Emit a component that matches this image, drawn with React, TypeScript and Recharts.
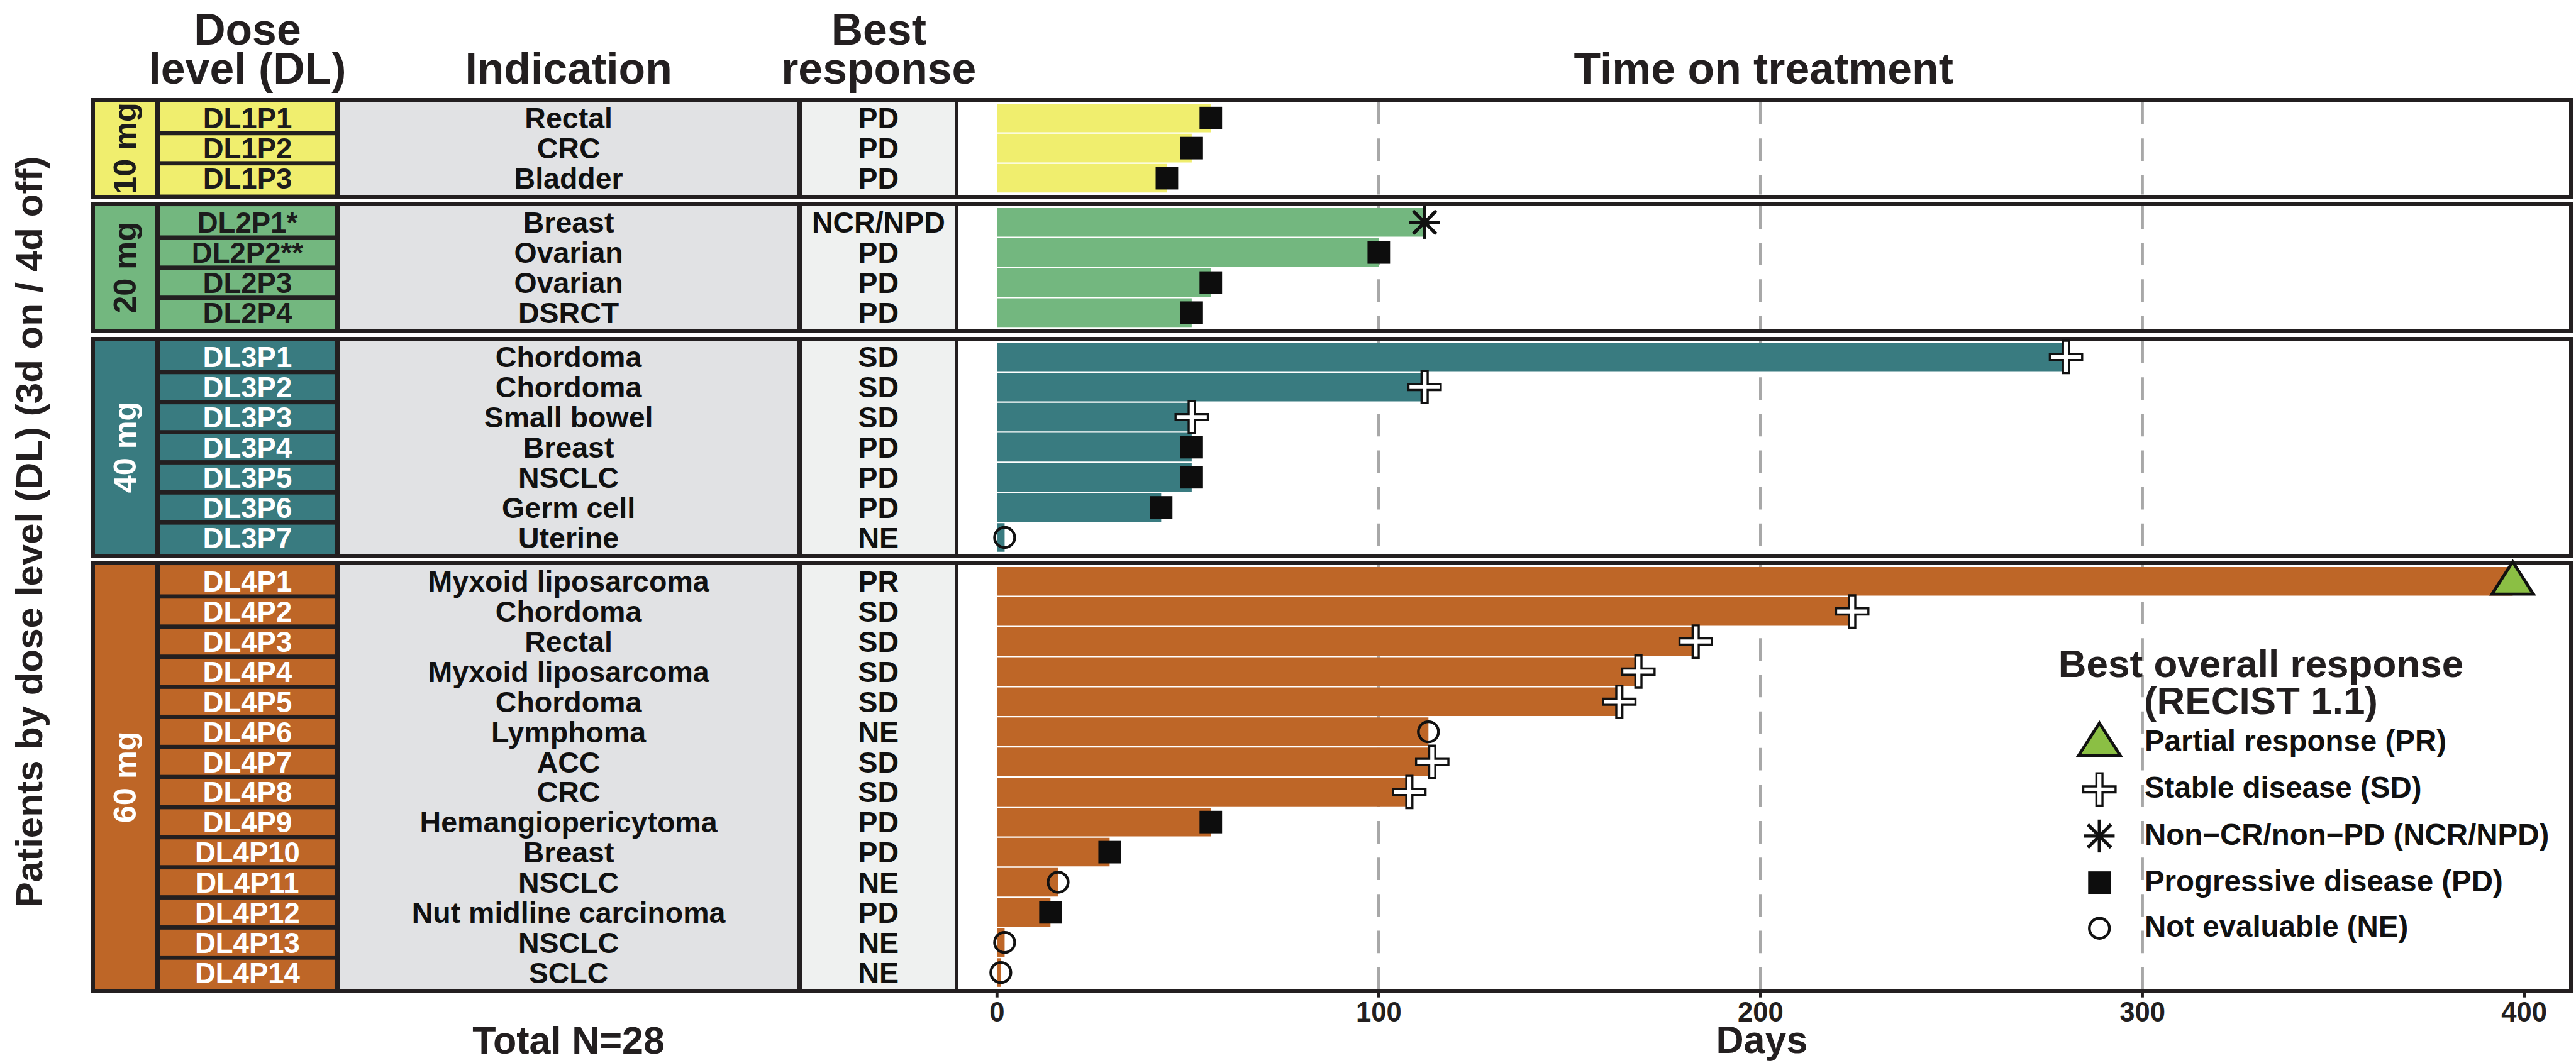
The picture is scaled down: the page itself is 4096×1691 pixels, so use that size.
import React from "react"
import { Bar, CartesianGrid, ComposedChart, LabelList, XAxis, YAxis } from "recharts"

// everything is laid out in reference pixels, then scaled
const S = 0.969
const s = (v: number) => v * S

const doseLevels = ["10 mg", "20 mg", "40 mg", "60 mg"]
const patientsPerDose = [3, 4, 7, 14]

const patientIds = [
  "DL1P1", "DL1P2", "DL1P3",
  "DL2P1*", "DL2P2**", "DL2P3", "DL2P4",
  "DL3P1", "DL3P2", "DL3P3", "DL3P4", "DL3P5", "DL3P6", "DL3P7",
  "DL4P1", "DL4P2", "DL4P3", "DL4P4", "DL4P5", "DL4P6", "DL4P7",
  "DL4P8", "DL4P9", "DL4P10", "DL4P11", "DL4P12", "DL4P13", "DL4P14",
]

const indications = [
  "Rectal", "CRC", "Bladder",
  "Breast", "Ovarian", "Ovarian", "DSRCT",
  "Chordoma", "Chordoma", "Small bowel", "Breast", "NSCLC", "Germ cell", "Uterine",
  "Myxoid liposarcoma", "Chordoma", "Rectal", "Myxoid liposarcoma", "Chordoma", "Lymphoma", "ACC",
  "CRC", "Hemangiopericytoma", "Breast", "NSCLC", "Nut midline carcinoma", "NSCLC", "SCLC",
]

const bestResponses = [
  "PD", "PD", "PD",
  "NCR/NPD", "PD", "PD", "PD",
  "SD", "SD", "SD", "PD", "PD", "PD", "NE",
  "PR", "SD", "SD", "SD", "SD", "NE", "SD",
  "SD", "PD", "PD", "NE", "PD", "NE", "NE",
]

const daysOnTreatment = [
  56, 51, 44.5,
  112, 100, 56, 51,
  280, 112, 51, 51, 51, 43, 2,
  397, 224, 183, 168, 163, 113, 114,
  108, 56, 29.5, 16, 14, 2, 1,
]

const xTicks = [0, 100, 200, 300, 400]
const gridDays = [100, 200, 300]

const legendCodes = ["PR", "SD", "NCR/NPD", "PD", "NE"]
const legendLabels = [
  "Partial response (PR)",
  "Stable disease (SD)",
  "Non\u2212CR/non\u2212PD (NCR/NPD)",
  "Progressive disease (PD)",
  "Not evaluable (NE)",
]

const doseColors = ["#F0EE6E", "#73B77F", "#397B80", "#BE6627"]
const doseInk = ["#1C1C1C", "#1C1C1C", "#FFFFFF", "#FFFFFF"]
const INK = "#231F20"
const FONT = "'Liberation Sans', Arial, Helvetica, sans-serif"

// layout (reference px)
const FRAME_L = 149
const FRAME_R = 4222.5
const BORDER = 6.5
const PANEL_GAP = 6
const ROW_H = 49.4
const PAD = 2
const FIRST_TOP = 161
const COL = {
  strip: [155.5, 255],
  id: [263, 549],
  ind: [557, 1309],
  best: [1316, 1567],
  plot: [1573, 4216],
}
const X0 = 1636
const PX_PER_DAY = 6.265
const xDomain = [(COL.plot[0] - X0) / PX_PER_DAY, (COL.plot[1] - X0) / PX_PER_DAY]
const M = 30
const AXIS_H = 70

type Row = { id: string; indication: string; resp: string; days: number }
type Panel = {
  dose: string
  color: string
  ink: string
  rows: Row[]
  n: number
  outerTop: number
  innerTop: number
  innerH: number
  last: boolean
}

let cursor = 0
let nextTop = FIRST_TOP
const panels: Panel[] = doseLevels.map((dose, p) => {
  const n = patientsPerDose[p]
  const rows = patientIds.slice(cursor, cursor + n).map((id, i) => ({
    id,
    indication: indications[cursor + i],
    resp: bestResponses[cursor + i],
    days: daysOnTreatment[cursor + i],
  }))
  const innerH = n * ROW_H + 2 * PAD
  const panel = {
    dose,
    color: doseColors[p],
    ink: doseInk[p],
    rows,
    n,
    outerTop: nextTop,
    innerTop: nextTop + BORDER,
    innerH,
    last: p === doseLevels.length - 1,
  }
  cursor += n
  nextTop += innerH + 2 * BORDER + PANEL_GAP
  return panel
})

function Marker({ code, cx, cy }: { code: string; cx: number; cy: number }) {
  const k = S
  if (code === "PR") {
    return (
      <polygon
        points={`${cx},${cy - 32 * k} ${cx + 34 * k},${cy + 21 * k} ${cx - 34 * k},${cy + 21 * k}`}
        fill="#8BBF44"
        stroke="#111"
        strokeWidth={5 * k}
      />
    )
  }
  if (code === "SD") {
    const a = 5 * k
    const L = 26.5 * k
    const d = `M${cx - a},${cy - L}H${cx + a}V${cy - a}H${cx + L}V${cy + a}H${cx + a}V${cy + L}H${cx - a}V${cy + a}H${cx - L}V${cy - a}H${cx - a}Z`
    return <path d={d} fill="#fff" stroke="#111" strokeWidth={3.5 * k} />
  }
  if (code === "NCR/NPD") {
    const v = 27 * k
    const h = 25 * k
    const dg = 19 * k
    return (
      <g stroke="#111" strokeWidth={5.5 * k}>
        <line x1={cx} y1={cy - v} x2={cx} y2={cy + v} />
        <line x1={cx - h} y1={cy} x2={cx + h} y2={cy} />
        <line x1={cx - dg} y1={cy - dg} x2={cx + dg} y2={cy + dg} />
        <line x1={cx - dg} y1={cy + dg} x2={cx + dg} y2={cy - dg} />
      </g>
    )
  }
  if (code === "PD") {
    return <rect x={cx - 18.5 * k} y={cy - 18.5 * k} width={37 * k} height={37 * k} fill="#0D0D0D" />
  }
  return <circle cx={cx} cy={cy} r={16.5 * k} fill="none" stroke="#111" strokeWidth={4.5 * k} />
}

function PanelChart({ panel }: { panel: Panel }) {
  const innerPx = s(panel.innerH)
  const mTop = s(M)
  const axisPx = panel.last ? s(AXIS_H) : 0
  const height = mTop + innerPx + axisPx + s(M)
  const band = s(ROW_H)

  const renderRow = (props: any) => {
    const { y, payload } = props
    const i = panel.rows.findIndex((r) => r.id === payload.value)
    if (i < 0) return <g />
    const row = panel.rows[i]
    const half = s(3.5)
    const top = i === 0 ? mTop : y - band / 2 + half
    const bot = i === panel.n - 1 ? mTop + innerPx : y + band / 2 - half
    const base = y + s(17)
    return (
      <g>
        <rect x={s(COL.id[0])} y={top} width={s(COL.id[1] - COL.id[0])} height={bot - top} fill={panel.color} />
        <text x={s((COL.id[0] + COL.id[1]) / 2)} y={base} textAnchor="middle" fill={panel.ink} fontSize={s(47)} fontWeight="bold">
          {row.id}
        </text>
        <text x={s((COL.ind[0] + COL.ind[1]) / 2)} y={base} textAnchor="middle" fill="#111" fontSize={s(48)} fontWeight="bold">
          {row.indication}
        </text>
        <text x={s((COL.best[0] + COL.best[1]) / 2)} y={base} textAnchor="middle" fill="#111" fontSize={s(48)} fontWeight="bold">
          {row.resp}
        </text>
      </g>
    )
  }

  const renderMarker = (props: any) => {
    const vb = props.viewBox && props.viewBox.width !== undefined ? props.viewBox : props
    return <Marker code={props.value} cx={vb.x + vb.width} cy={vb.y + vb.height / 2} />
  }

  const renderTick = (props: any) => (
    <text x={props.x} y={mTop + innerPx + s(53.5)} textAnchor="middle" fontSize={s(45)} fontWeight="bold" fill={INK}>
      {props.payload.value}
    </text>
  )

  return (
    <div style={{ position: "absolute", left: 0, top: s(panel.innerTop) - mTop }}>
      <ComposedChart
        layout="vertical"
        width={s(COL.plot[1])}
        height={height}
        data={panel.rows}
        margin={{ top: mTop, right: 0, bottom: s(M), left: 0 }}
      >
        <CartesianGrid
          horizontal={false}
          verticalValues={gridDays}
          stroke="#A8A8A8"
          strokeWidth={s(5)}
          strokeDasharray={`${s(37)} ${s(23)}`}
        />
        <XAxis
          type="number"
          dataKey="days"
          domain={xDomain}
          ticks={xTicks}
          interval={0}
          hide={!panel.last}
          height={axisPx}
          axisLine={false}
          tickSize={s(14)}
          tickLine={{ stroke: INK, strokeWidth: s(5) }}
          tick={renderTick}
        />
        <YAxis
          type="category"
          dataKey="id"
          width={s(COL.plot[0])}
          interval={0}
          axisLine={false}
          tickLine={false}
          padding={{ top: s(PAD), bottom: s(PAD) }}
          tick={renderRow}
        />
        <Bar dataKey="days" fill={panel.color} barSize={s(ROW_H - 2.4)} isAnimationActive={false}>
          <LabelList dataKey="resp" content={renderMarker} />
        </Bar>
      </ComposedChart>
    </div>
  )
}

function Frames() {
  const box = (key: string, x0: number, x1: number, y: number, h: number, bg: string) => (
    <div key={key} style={{ position: "absolute", left: s(x0), top: s(y), width: s(x1 - x0), height: s(h), background: bg }} />
  )
  return (
    <>
      {panels.map((p, i) => (
        <React.Fragment key={i}>
          {box(`o${i}`, FRAME_L, FRAME_R, p.outerTop, p.innerH + 2 * BORDER, INK)}
          {box(`s${i}`, COL.strip[0], COL.strip[1], p.innerTop, p.innerH, p.color)}
          {box(`n${i}`, COL.ind[0], COL.ind[1], p.innerTop, p.innerH, "#E1E2E4")}
          {box(`b${i}`, COL.best[0], COL.best[1], p.innerTop, p.innerH, "#EFF1F0")}
          {box(`p${i}`, COL.plot[0], COL.plot[1], p.innerTop, p.innerH, "#FFFFFF")}
        </React.Fragment>
      ))}
    </>
  )
}

function Overlay() {
  const head = s(72)
  const legX = 3445
  const legTextX = 3519
  const legBase = [1233, 1310, 1386.5, 1463, 1538]
  return (
    <svg width={4096} height={1691} style={{ position: "absolute", left: 0, top: 0, pointerEvents: "none" }}>
      <g fontWeight="bold" fill={INK} textAnchor="middle" fontSize={head}>
        <text x={s(406)} y={s(73)}>Dose</text>
        <text x={s(406)} y={s(137.5)}>level (DL)</text>
        <text x={s(933)} y={s(137.5)}>Indication</text>
        <text x={s(1442)} y={s(73)}>Best</text>
        <text x={s(1442)} y={s(137.5)}>response</text>
        <text x={s(2894)} y={s(137.5)}>Time on treatment</text>
      </g>
      <text
        transform={`translate(${s(48)},${s(873)}) rotate(-90)`}
        textAnchor="middle"
        dominantBaseline="central"
        fontWeight="bold"
        fontSize={s(62)}
        fill={INK}
      >
        Patients by dose level (DL) (3d on / 4d off)
      </text>
      {panels.map((p, i) => (
        <text
          key={i}
          transform={`translate(${s(205)},${s(p.innerTop + p.innerH / 2)}) rotate(-90)`}
          textAnchor="middle"
          dominantBaseline="central"
          fontWeight="bold"
          fontSize={s(52)}
          fill={p.ink}
        >
          {p.dose}
        </text>
      ))}
      <g fontWeight="bold" fill={INK} textAnchor="middle" fontSize={s(63)}>
        <text x={s(933)} y={s(1730)}>Total N=28</text>
        <text x={s(2891)} y={s(1729)}>Days</text>
      </g>
      <g fontWeight="bold" fill={INK} textAnchor="middle" fontSize={s(64)}>
        <text x={s(3710)} y={s(1111)}>Best overall response</text>
        <text x={s(3710)} y={s(1172)}>(RECIST 1.1)</text>
      </g>
      {legendCodes.map((code, i) => (
        <g key={code}>
          <Marker code={code} cx={s(legX)} cy={s(legBase[i] - 14)} />
          <text x={s(legTextX)} y={s(legBase[i])} fontWeight="bold" fontSize={s(49)} fill="#111">
            {legendLabels[i]}
          </text>
        </g>
      ))}
    </svg>
  )
}

export default function App() {
  return (
    <div
      style={{
        position: "absolute",
        left: 0,
        top: 0,
        width: 4096,
        height: 1691,
        overflow: "hidden",
        background: "#fff",
        fontFamily: FONT,
      }}
    >
      <Frames />
      {panels.map((p, i) => (
        <PanelChart key={i} panel={p} />
      ))}
      <Overlay />
    </div>
  )
}
